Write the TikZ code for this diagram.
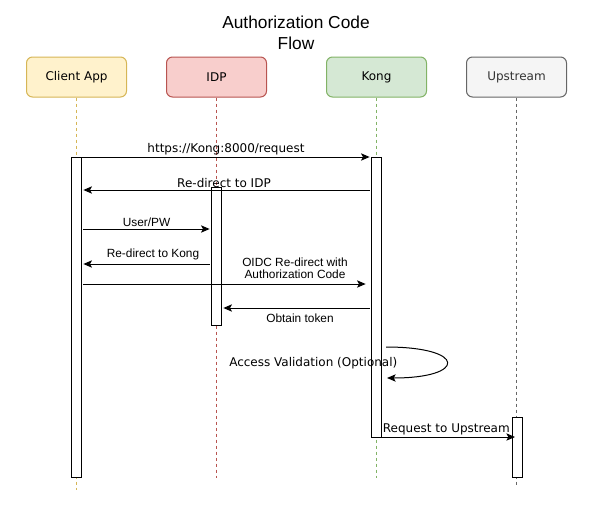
\documentclass[tikz,border=0pt]{standalone}
\usepackage{fontspec}
\setmainfont{Liberation Sans}
\newfontfamily\dvs{DejaVu Sans}
\usetikzlibrary{arrows.meta}
\definecolor{cliF}{HTML}{FFF2CC}
\definecolor{cliD}{HTML}{D6B656}
\definecolor{idpF}{HTML}{F8CECC}
\definecolor{idpD}{HTML}{B85450}
\definecolor{kongF}{HTML}{D5E8D4}
\definecolor{kongD}{HTML}{82B366}
\definecolor{upF}{HTML}{F5F5F5}
\definecolor{upD}{HTML}{666666}
\definecolor{upT}{HTML}{333333}
\begin{document}
\begin{tikzpicture}[x=0.75pt,y=-0.75pt,
  actor/.style={draw, rounded corners=4.5pt, minimum width=75pt, minimum height=30pt, inner sep=0pt, line width=0.75pt, font=\dvs\fontsize{9}{11}\selectfont},
  bar/.style={draw=black, fill=white, line width=0.75pt, minimum width=7.5pt, inner sep=0pt, anchor=north},
  life/.style={line width=0.75pt, dash pattern=on 2.25pt off 2.25pt},
  msg/.style={line width=0.75pt, shorten >=1pt, shorten <=1pt, -{Stealth[length=6.5pt,width=5.5pt,inset=1.5pt]}},
  dlab/.style={font=\dvs\fontsize{9}{11}\selectfont, inner sep=0pt},
  hlab/.style={font=\fontsize{8.9}{9.3}\selectfont, inner sep=0pt, align=center},
]
\useasboundingbox (0,0) rectangle (600,511);
\node[font=\fontsize{13}{15.8}\selectfont, align=center, inner sep=0pt] (title) at (296,32.5) {Authorization Code\\Flow};

\node[actor, fill=cliF, draw=cliD] (client) at (76.5,77) {Client App};
\node[actor, fill=idpF, draw=idpD] (idp) at (216.5,77) {IDP};
\node[actor, fill=kongF, draw=kongD] (kong) at (376.5,77) {Kong};
\node[actor, fill=upF, draw=upD, text=upT] (up) at (516.5,77) {Upstream};

\coordinate (cend) at (76.5,490);
\coordinate (iend) at (216.5,478);
\coordinate (kend) at (376.5,478);
\coordinate (uend) at (516.5,485);
\draw[life, draw=cliD] (client.south) -- (cend);
\draw[life, draw=idpD] (idp.south) -- (iend);
\draw[life, draw=kongD] (kong.south) -- (kend);
\draw[life, draw=upD] (up.south) -- (uend);

\node[bar, minimum height=240pt] (cbar) at (76.5,157) {};
\node[bar, minimum height=103.5pt] (ibar) at (216.5,187) {};
\node[bar, minimum height=210pt] (kbar) at (376.5,157) {};
\node[bar, minimum height=45pt] (ubar) at (517,417) {};

\draw[msg, shorten <=0pt] (cbar.north east) -- (kbar.north west);
\draw[msg] (kbar.west |- 0,190) -- (cbar.east |- 0,190);
\draw[msg] (cbar.east |- 0,229) -- (ibar.west |- 0,229);
\draw[msg] (ibar.west |- 0,264) -- (cbar.east |- 0,264);
\draw[msg, shorten >=4pt] (cbar.east |- 0,284) -- (kbar.west |- 0,284);
\draw[msg] (kbar.west |- 0,308) -- (ibar.east |- 0,308);
\path (kbar.east |- 0,347) ++(4,0) coordinate (ls);
\path (kbar.east |- 0,378) ++(5,0) coordinate (le);
\draw[msg, shorten <=0pt, shorten >=0pt] (ls) .. controls (467,347) and (467,378) .. (le);
\draw[msg, shorten <=0pt, shorten >=1.5pt] (kbar.east |- 0,437) -- (ubar.center |- 0,437);

\node[dlab] (l1) at (226,149) {https://Kong:8000/request};
\node[dlab] (l2) at (224,183) {Re-direct to IDP};
\node[hlab] (l3) at (146.5,222) {User/PW};
\node[hlab] (l4) at (153,254.5) {Re-direct to Kong};
\node[hlab] (l5) at (295,268.5) {OIDC Re-direct with\\Authorization Code};
\node[hlab] (l6) at (300,318) {Obtain token};
\node[dlab] (l7) at (313.3,363.5) {Access Validation (Optional)};
\node[dlab] (l8) at (446.3,429.5) {Request to Upstream};
\end{tikzpicture}
\end{document}
